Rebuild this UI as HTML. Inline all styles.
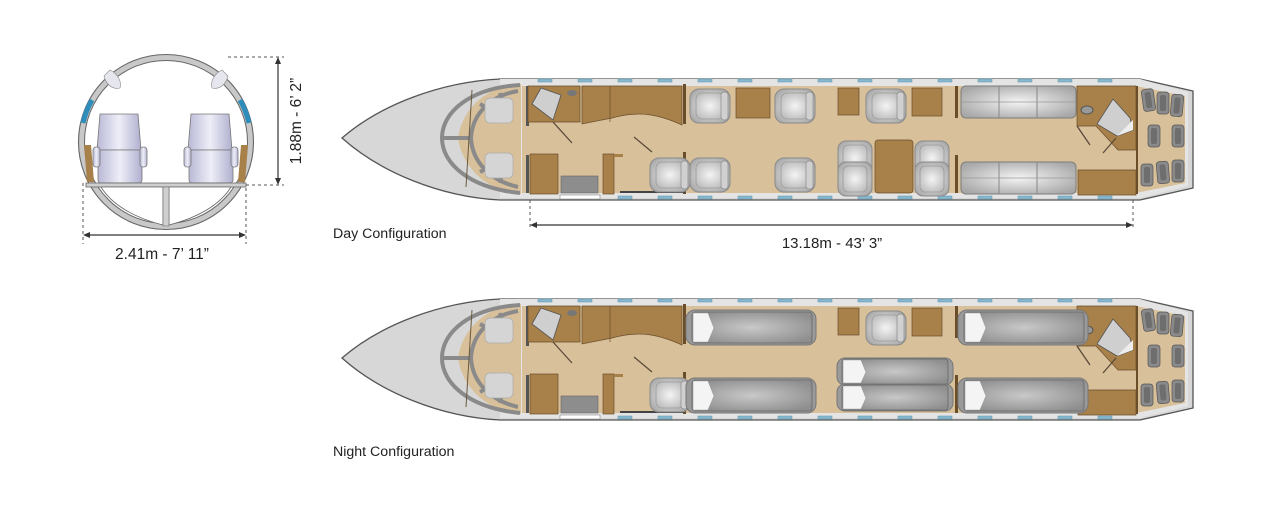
<!DOCTYPE html>
<html><head><meta charset="utf-8"><style>
html,body{margin:0;padding:0;background:#fff;width:1280px;height:511px;overflow:hidden}
svg{display:block}
text{font-family:"Liberation Sans",sans-serif;fill:#222}
</style></head><body>
<svg width="1280" height="511" viewBox="0 0 1280 511" xmlns="http://www.w3.org/2000/svg">
<defs>
<radialGradient id="sg" cx="50%" cy="50%" r="60%"><stop offset="0" stop-color="#f4f4f4"/><stop offset="1" stop-color="#a8a8a8"/></radialGradient>
<radialGradient id="bg" cx="50%" cy="50%" r="60%"><stop offset="0" stop-color="#c8c8c8"/><stop offset="1" stop-color="#8e8e8e"/></radialGradient>
<linearGradient id="lav" x1="0" x2="1"><stop offset="0" stop-color="#b9b9d6"/><stop offset=".5" stop-color="#eeeef8"/><stop offset="1" stop-color="#b0b0cf"/></linearGradient>
<g id="seat"><rect x="0" y="0" width="40" height="34" rx="9" fill="url(#sg)" stroke="#8a8a8a"/><rect x="6" y="4" width="28" height="26" rx="6" fill="none" stroke="#9a9a9a" stroke-width=".8"/><rect x="31" y="3" width="7" height="28" rx="3" fill="#d0d0d0" stroke="#8a8a8a" stroke-width=".7"/></g>
<g id="seatL"><rect x="0" y="0" width="34" height="34" rx="8" fill="url(#sg)" stroke="#8a8a8a"/><rect x="5" y="4" width="24" height="26" rx="5" fill="none" stroke="#9a9a9a" stroke-width=".8"/></g>
<g id="divan"><rect x="0" y="0" width="115" height="32" rx="5" fill="url(#sg)" stroke="#7c7c7c"/><line x1="38" y1="0" x2="38" y2="32" stroke="#888"/><line x1="76" y1="0" x2="76" y2="32" stroke="#888"/><line x1="0" y1="16" x2="115" y2="16" stroke="#999" stroke-width=".7"/></g>
<g id="bed"><rect x="-4" y="-2" width="130" height="35" rx="9" fill="#9a9a9a" stroke="#777"/><rect x="2" y="0" width="120" height="31" rx="3" fill="url(#bg)" stroke="#666" stroke-width=".8"/><path d="M3 1h15l6 15-6 14h-15z" fill="#f4f4f4" stroke="#999" stroke-width=".6"/></g>
<g id="bedS"><rect x="-3" y="-1" width="116" height="27" rx="8" fill="#9a9a9a" stroke="#777"/><rect x="2" y="0" width="106" height="25" rx="3" fill="url(#bg)" stroke="#666" stroke-width=".8"/><path d="M3 1h18l5 12-5 11h-18z" fill="#f4f4f4" stroke="#999" stroke-width=".6"/></g>
<g id="bag"><rect x="0" y="0" width="12" height="22" rx="3" fill="#8a8a8a" stroke="#555" stroke-width=".7"/><rect x="3" y="3" width="6" height="16" rx="2" fill="#6e6e6e"/></g>
<g id="plane">
 <path d="M342 138 C380 105 440 82 500 79 L1140 79 L1193 91 L1193 188 L1140 200 L500 200 C440 197 380 172 342 138Z" fill="#d7d7d7" stroke="#555" stroke-width="1.3"/>
 <path d="M500 79 L1140 79 L1188 92 L1188 186 L1140 198 L500 198Z" fill="#e4e4e4"/>
 <path d="M522 86 L1136 86 L1136 86 L1185 96 L1185 183 L1136 193 L522 193 Z" fill="#d8c09a"/>
 <path d="M521 84 C485 86 462 110 458 138 C462 166 485 191 521 194 Z" fill="#d8c09a"/>
 <g fill="#86b8cf" stroke="#5f93ad" stroke-width=".5">
  <rect x="538" y="79" width="14" height="3"/><rect x="578" y="79" width="14" height="3"/><rect x="618" y="79" width="14" height="3"/><rect x="658" y="79" width="14" height="3"/><rect x="698" y="79" width="14" height="3"/><rect x="738" y="79" width="14" height="3"/><rect x="778" y="79" width="14" height="3"/><rect x="818" y="79" width="14" height="3"/><rect x="858" y="79" width="14" height="3"/><rect x="898" y="79" width="14" height="3"/><rect x="938" y="79" width="14" height="3"/><rect x="978" y="79" width="14" height="3"/><rect x="1018" y="79" width="14" height="3"/><rect x="1058" y="79" width="14" height="3"/><rect x="1098" y="79" width="14" height="3"/>
  <rect x="618" y="196" width="14" height="3"/><rect x="658" y="196" width="14" height="3"/><rect x="698" y="196" width="14" height="3"/><rect x="738" y="196" width="14" height="3"/><rect x="778" y="196" width="14" height="3"/><rect x="818" y="196" width="14" height="3"/><rect x="858" y="196" width="14" height="3"/><rect x="898" y="196" width="14" height="3"/><rect x="938" y="196" width="14" height="3"/><rect x="978" y="196" width="14" height="3"/><rect x="1018" y="196" width="14" height="3"/><rect x="1058" y="196" width="14" height="3"/><rect x="1098" y="196" width="14" height="3"/>
 </g>
 <rect x="560" y="195" width="40" height="4" fill="#fff" stroke="#888" stroke-width=".6"/>
 <g fill="none" stroke="#8a8a8a" stroke-width="4">
  <path d="M520 85 C470 88 442 112 442 138 C442 164 470 188 520 193"/>
  <path d="M518 91 C488 96 472 116 471 138 C472 160 488 180 518 187"/>
  <line x1="442" y1="138" x2="471" y2="138"/>
  <path d="M480 104 L494 112 M500 93 L503 106 M480 172 L494 164 M500 183 L503 170"/>
 </g>
 <line x1="472" y1="90" x2="466" y2="187" stroke="#6a5a40" stroke-width="1"/>
 <g fill="#d5d5d5" stroke="#aaa" stroke-width=".7"><rect x="485" y="98" width="28" height="25" rx="5"/><rect x="485" y="153" width="28" height="25" rx="5"/></g>
 <rect x="526" y="86" width="3" height="40" fill="#555"/>
 <rect x="526" y="155" width="3" height="38" fill="#555"/>
 <path d="M528 86 L580 86 L580 122 L528 122Z" fill="#a7804a" stroke="#6a4e2a" stroke-width=".7"/>
 <path d="M532 104 L541 88 L561 95 L553 120Z" fill="#cfcfcf" stroke="#555" stroke-width=".8"/>
 <ellipse cx="572" cy="93" rx="5" ry="3" fill="#777"/>
 <path d="M582 86 L682 86 L682 125 C660 115 640 110 612 118 L582 124 Z" fill="#a7804a" stroke="#6a4e2a" stroke-width=".7"/>
 <line x1="610" y1="86" x2="610" y2="122" stroke="#6a4e2a" stroke-width=".7"/>
 <line x1="553" y1="122" x2="572" y2="143" stroke="#5a4a3a" stroke-width="1.3"/>
 <line x1="634" y1="137" x2="652" y2="152" stroke="#5a4a3a" stroke-width="1.3"/>
 <rect x="530" y="154" width="28" height="40" fill="#a7804a" stroke="#6a4e2a" stroke-width=".7"/>
 <rect x="561" y="176" width="37" height="17" fill="#8d8d8d" stroke="#666" stroke-width=".6"/>
 <rect x="603" y="154" width="11" height="40" fill="#a7804a" stroke="#6a4e2a" stroke-width=".7"/>
 <rect x="614" y="154" width="9" height="3" fill="#a7804a"/>
 <rect x="683" y="84" width="3" height="40" fill="#6a4e2a"/>
 <rect x="683" y="152" width="3" height="42" fill="#6a4e2a"/>
 <rect x="620" y="191" width="65" height="2" fill="#444"/>
 <path d="M1077 86 L1136 86 L1136 150 L1118 150 L1096 126 L1077 126 Z" fill="#a7804a" stroke="#6a4e2a" stroke-width=".7"/>
 <path d="M1097 124 L1113 99 L1130 118 L1133 130 L1117 136Z" fill="#cfcfcf" stroke="#555" stroke-width=".8"/>
 <path d="M1117 136 L1133 130 L1133 120Z" fill="#eee"/>
 <ellipse cx="1087" cy="110" rx="6" ry="4" fill="#999" stroke="#555"/>
 <line x1="1077" y1="126" x2="1090" y2="145" stroke="#5a4a3a" stroke-width="1.3"/>
 <line x1="1116" y1="138" x2="1103" y2="153" stroke="#5a4a3a" stroke-width="1.3"/>
 <path d="M1078 170 L1136 170 L1136 195 L1078 195Z" fill="#a7804a" stroke="#6a4e2a" stroke-width=".7"/>
 <rect x="1136" y="86" width="2" height="108" fill="#6a4e2a"/>
 <g transform="translate(1141,90) rotate(-8)"><use href="#bag"/></g>
 <g transform="translate(1157,92)"><use href="#bag"/></g>
 <g transform="translate(1172,94) rotate(5)"><use href="#bag"/></g>
 <g transform="translate(1148,125)"><use href="#bag"/></g>
 <g transform="translate(1172,125)"><use href="#bag"/></g>
 <g transform="translate(1141,164)"><use href="#bag"/></g>
 <g transform="translate(1156,162) rotate(-5)"><use href="#bag"/></g>
 <g transform="translate(1172,160)"><use href="#bag"/></g>
 <rect x="838" y="88" width="21" height="27" fill="#a7804a" stroke="#6a4e2a" stroke-width=".7"/>
 <rect x="912" y="88" width="30" height="28" fill="#a7804a" stroke="#6a4e2a" stroke-width=".7"/>
 <rect x="955" y="86" width="3" height="32" fill="#6a4e2a"/>
 <rect x="955" y="155" width="3" height="38" fill="#6a4e2a"/>
</g>
</defs>

<g>
 <circle cx="166" cy="142" r="84.5" fill="#fff" stroke="#c8c8c8" stroke-width="6"/>
 <circle cx="166" cy="142" r="87.5" fill="none" stroke="#666" stroke-width="1.1"/>
 <circle cx="166" cy="142" r="81.5" fill="none" stroke="#666" stroke-width="1"/>
 <path d="M83 123 A84 84 0 0 1 92 100" fill="none" stroke="#2f8dbb" stroke-width="5"/>
 <path d="M249 123 A84 84 0 0 0 240 100" fill="none" stroke="#2f8dbb" stroke-width="5"/>
 <path d="M84 145 L91 145 L94 182 L87 182Z" fill="#a7804a"/>
 <path d="M248 145 L241 145 L238 182 L245 182Z" fill="#a7804a"/>
 <path d="M110 70 C118 74 122 82 120 88 C112 90 106 84 104 76Z" fill="#e6e6ee" stroke="#888" stroke-width=".6"/>
 <path d="M222 70 C214 74 210 82 212 88 C220 90 226 84 228 76Z" fill="#e6e6ee" stroke="#888" stroke-width=".6"/>
 <g stroke="#777" stroke-width=".8" fill="url(#lav)">
  <path d="M100 114 L138 114 L141 150 L97 150Z"/>
  <rect x="98" y="150" width="44" height="33" rx="3"/>
  <rect x="93" y="147" width="7" height="20" rx="3"/><rect x="140" y="147" width="7" height="20" rx="3"/>
  <path d="M191 114 L229 114 L232 150 L188 150Z"/>
  <rect x="189" y="150" width="44" height="33" rx="3"/>
  <rect x="184" y="147" width="7" height="20" rx="3"/><rect x="231" y="147" width="7" height="20" rx="3"/>
 </g>
 <rect x="86" y="183" width="160" height="4" fill="#cfcfcf" stroke="#666" stroke-width=".8"/>
 <path d="M101 187 L163 187 L163 225 C135 218 112 205 101 187Z M169 187 L231 187 C220 205 197 218 169 225Z" fill="#fff" stroke="#666" stroke-width=".8"/>
 <path d="M163 187 L169 187 L169 226 L163 226Z" fill="#cfcfcf" stroke="#666" stroke-width=".6"/>
 <g stroke="#555" stroke-width="1" stroke-dasharray="3,3" fill="none">
  <line x1="228" y1="57" x2="284" y2="57"/><line x1="246" y1="185" x2="284" y2="185"/>
  <line x1="83" y1="183" x2="83" y2="244"/><line x1="246" y1="188" x2="246" y2="244"/>
 </g>
 <line x1="278" y1="60" x2="278" y2="182" stroke="#333" stroke-width="1.2"/>
 <path d="M278 57 l-3 7 h6z M278 185 l-3 -7 h6z" fill="#333"/>
 <line x1="86" y1="235" x2="243" y2="235" stroke="#333" stroke-width="1.2"/>
 <path d="M83 235 l7 -3 v6z M246 235 l-7 -3 v6z" fill="#333"/>
 <text x="295" y="121" font-size="15.5" text-anchor="middle" transform="rotate(-90 295 121)" dy="6">1.88m - 6’ 2”</text>
 <text x="162" y="259" font-size="15.5" text-anchor="middle">2.41m - 7’ 11”</text>
</g>

<use href="#plane"/>
<use href="#seat" x="690" y="89"/><use href="#seat" x="775" y="89"/><use href="#seat" x="866" y="89"/>
<use href="#seat" x="650" y="158"/><use href="#seat" x="690" y="158"/><use href="#seat" x="775" y="158"/>
<rect x="736" y="88" width="34" height="30" fill="#a7804a" stroke="#6a4e2a" stroke-width=".7"/>
<use href="#seatL" x="838" y="141"/><use href="#seatL" x="838" y="162"/>
<use href="#seatL" x="915" y="141"/><use href="#seatL" x="915" y="162"/>
<rect x="875" y="140" width="38" height="53" rx="3" fill="#a7804a" stroke="#6a4e2a" stroke-width=".7"/>
<use href="#divan" x="961" y="86"/><use href="#divan" x="961" y="162"/>

<g stroke="#555" stroke-width="1" stroke-dasharray="3,3"><line x1="530" y1="200" x2="530" y2="230"/><line x1="1133" y1="200" x2="1133" y2="230"/></g>
<line x1="533" y1="225" x2="1130" y2="225" stroke="#333" stroke-width="1.2"/>
<path d="M530 225 l7 -3 v6z M1133 225 l-7 -3 v6z" fill="#333"/>
<text x="333" y="238" font-size="14.2">Day Configuration</text>
<text x="832" y="248" font-size="15" text-anchor="middle">13.18m - 43’ 3”</text>

<g transform="translate(0,220)">
<use href="#plane"/>
<use href="#seat" x="866" y="91"/>
<use href="#seat" x="650" y="158"/>
<use href="#bed" x="690" y="92"/><use href="#bed" x="690" y="160"/>
<use href="#bedS" x="840" y="139"/><use href="#bedS" x="840" y="165"/>
<use href="#bed" x="962" y="92"/><use href="#bed" x="962" y="160"/>
</g>
<text x="333" y="456" font-size="14.2">Night Configuration</text>
</svg>
</body></html>
